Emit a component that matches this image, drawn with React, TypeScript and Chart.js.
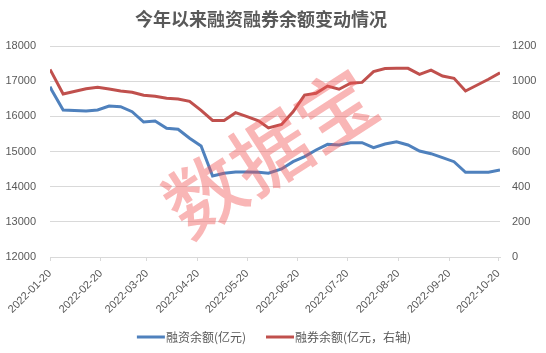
import React, { useEffect, useRef } from "react";
import { Chart, registerables } from "chart.js";

Chart.register(...registerables);

const titleText = "今年以来融资融券余额变动情况";
const watermarkText = "数据宝";

const dates = [
  "2022-01-20", "2022-01-21", "2022-01-28", "2022-02-11", "2022-02-18", "2022-02-25",
  "2022-03-04", "2022-03-11", "2022-03-18", "2022-03-25", "2022-04-01", "2022-04-08",
  "2022-04-15", "2022-04-22", "2022-04-29", "2022-05-06", "2022-05-13", "2022-05-20",
  "2022-05-27", "2022-06-02", "2022-06-10", "2022-06-17", "2022-06-24", "2022-07-01",
  "2022-07-08", "2022-07-15", "2022-07-22", "2022-07-29", "2022-08-05", "2022-08-12",
  "2022-08-19", "2022-08-26", "2022-09-02", "2022-09-09", "2022-09-16", "2022-09-23",
  "2022-09-30", "2022-10-14", "2022-10-21",
];

const financingBalance = [
  16843, 16749, 16180, 16152, 16180, 16294, 16274, 16132, 15839, 15868, 15660, 15632,
  15376, 15157, 14304, 14381, 14418, 14418, 14409, 14381, 14503, 14710, 14853, 15043,
  15205, 15185, 15250, 15250, 15108, 15213, 15279, 15185, 15015, 14938, 14824, 14710,
  14409, 14409, 14475,
];

const securitiesBalance = [
  1067, 1050, 927, 957, 965, 955, 944, 937, 920, 914, 903, 899,
  885, 834, 777, 777, 821, 798, 775, 734, 754, 826, 921, 931,
  972, 954, 988, 993, 1054, 1072, 1073, 1073, 1039, 1063, 1029, 1016,
  944, 1011, 1048,
];

const tickLabels = [
  "2022-01-20", "2022-02-20", "2022-03-20", "2022-04-20", "2022-05-20",
  "2022-06-20", "2022-07-20", "2022-08-20", "2022-09-20", "2022-10-20",
];

const seriesNames = ["融资余额(亿元)", "融券余额(亿元，右轴)"];
const seriesColors = ["#4F81BD", "#C0504D"];

const leftTicks = { min: 12000, max: 18000, step: 1000 };
const rightTicks = { min: 0, max: 1200, step: 200 };
const xEnd = "2022-10-21";

const dayOf = (s: string) => {
  const [y, m, d] = s.split("-").map(Number);
  return Math.round((Date.UTC(y, m - 1, d) - Date.UTC(2022, 0, 20)) / 86400000);
};

const numFont = '"Liberation Sans", Arial, sans-serif';
const cjkFont = '"Noto Sans CJK SC", sans-serif';
const textColor = "#595959";
const gridColor = "#D9D9D9";

export default function App() {
  const canvasRef = useRef<HTMLCanvasElement | null>(null);

  useEffect(() => {
    if (!canvasRef.current) return;
    const labelByDay: Record<number, string> = {};
    tickLabels.forEach((l) => (labelByDay[dayOf(l)] = l));

    const decor = {
      id: "decor",
      afterDatasetsDraw(chart: any) {
        const ctx = chart.ctx;
        // watermark
        ctx.save();
        ctx.translate(270, 152);
        ctx.rotate((-33 * Math.PI) / 180);
        ctx.font = `500 78px ${cjkFont}`;
        ctx.fillStyle = "rgba(240,80,80,0.42)";
        ctx.textAlign = "center";
        ctx.textBaseline = "middle";
        ctx.fillText(watermarkText, 0, 0);
        ctx.restore();
      },
      afterDraw(chart: any) {
        const ctx = chart.ctx;
        // title
        ctx.save();
        ctx.font = `bold 18px ${cjkFont}`;
        ctx.fillStyle = textColor;
        ctx.textAlign = "center";
        ctx.textBaseline = "middle";
        ctx.fillText(titleText, 261, 19);
        ctx.restore();
        // legend
        ctx.save();
        ctx.font = `12px ${cjkFont}`;
        ctx.textBaseline = "middle";
        const lineW = 28;
        const gapText = 1;
        const gapItem = 20;
        const widths = seriesNames.map((n) => ctx.measureText(n).width);
        const total =
          widths.reduce((a: number, w: number) => a + lineW + gapText + w, 0) + gapItem * (seriesNames.length - 1);
        let x = 274 - total / 2;
        const y = 337;
        seriesNames.forEach((n, i) => {
          ctx.strokeStyle = seriesColors[i];
          ctx.lineWidth = 3;
          ctx.beginPath();
          ctx.moveTo(x, y);
          ctx.lineTo(x + lineW, y);
          ctx.stroke();
          ctx.fillStyle = textColor;
          ctx.textAlign = "left";
          ctx.fillText(n, x + lineW + gapText, y);
          x += lineW + gapText + widths[i] + gapItem;
        });
        ctx.restore();
      },
    };

    const chart = new Chart(canvasRef.current, {
      type: "line",
      data: {
        datasets: [
          {
            label: seriesNames[0],
            data: dates.map((d, i) => ({ x: dayOf(d), y: financingBalance[i] })),
            borderColor: seriesColors[0],
            backgroundColor: seriesColors[0],
            borderWidth: 3,
            pointRadius: 0,
            tension: 0,
            yAxisID: "y",
          },
          {
            label: seriesNames[1],
            data: dates.map((d, i) => ({ x: dayOf(d), y: securitiesBalance[i] })),
            borderColor: seriesColors[1],
            backgroundColor: seriesColors[1],
            borderWidth: 3,
            pointRadius: 0,
            tension: 0,
            yAxisID: "y1",
          },
        ],
      },
      options: {
        responsive: false,
        animation: false,
        layout: { padding: { top: 46, bottom: 34, left: 0, right: 0 } },
        plugins: {
          legend: { display: false },
          title: { display: false },
          tooltip: { enabled: false },
        },
        scales: {
          x: {
            type: "linear",
            min: 0,
            max: dayOf(xEnd),
            afterBuildTicks: (scale: any) => {
              scale.ticks = tickLabels.map((l) => ({ value: dayOf(l) }));
            },
            afterFit: (scale: any) => {
              scale.height = 62;
            },
            ticks: {
              autoSkip: false,
              minRotation: 45,
              maxRotation: 45,
              padding: 6,
              color: textColor,
              font: { family: numFont, size: 11 },
              callback: (v: any) => labelByDay[v] ?? "",
            },
            grid: {
              drawOnChartArea: false,
              drawTicks: true,
              tickLength: 4,
              color: gridColor,
            },
            border: { display: true, color: gridColor, width: 1 },
          },
          y: {
            position: "left",
            min: leftTicks.min,
            max: leftTicks.max,
            afterFit: (scale: any) => {
              scale.width = 50;
            },
            ticks: {
              stepSize: leftTicks.step,
              padding: 14,
              color: textColor,
              font: { family: numFont, size: 11 },
              callback: (v: any) => String(v),
            },
            grid: { color: gridColor, drawTicks: false, lineWidth: 1 },
            border: { display: false },
          },
          y1: {
            position: "right",
            min: rightTicks.min,
            max: rightTicks.max,
            afterFit: (scale: any) => {
              scale.width = 46;
            },
            ticks: {
              stepSize: rightTicks.step,
              padding: 12,
              color: textColor,
              font: { family: numFont, size: 11 },
              callback: (v: any) => String(v),
            },
            grid: { drawOnChartArea: false, drawTicks: false },
            border: { display: false },
          },
        },
      },
      plugins: [decor],
    } as any);

    return () => chart.destroy();
  }, []);

  return (
    <div style={{ position: "fixed", left: 0, top: 0, width: 546, height: 353, background: "#fff" }}>
      <canvas ref={canvasRef} width={546} height={353} style={{ display: "block" }} />
    </div>
  );
}
